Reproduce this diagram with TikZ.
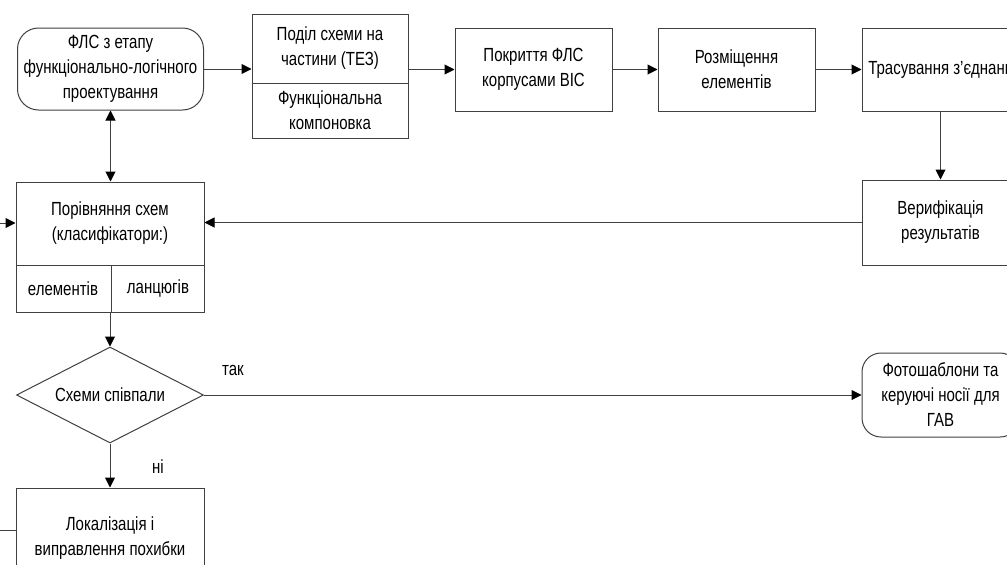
\documentclass[tikz,border=0pt]{standalone}
\usepackage{fontspec}
\setmainfont{Liberation Sans}[FakeStretch=0.79]
\usetikzlibrary{shapes.geometric,arrows.meta}
\begin{document}
\begin{tikzpicture}[x=1pt,y=-1pt,
  every node/.style={font=\fontsize{19}{25}\selectfont},
  box/.style={draw=black!75, line width=1pt, align=center, inner sep=0pt},
  plain/.style={align=center, inner sep=0pt},
  rbox/.style={box, rounded corners=21pt},
  conn/.style={draw=black!75, line width=1pt},
  arr/.style={conn, -{Triangle[length=10pt,width=10pt,color=black]}},
  darr/.style={conn, {Triangle[length=10pt,width=10pt,color=black]}-{Triangle[length=10pt,width=10pt,color=black]}}
]
\useasboundingbox (0,0) rectangle (1007,565);
\clip (0,0) rectangle (1007,565);
\fill[white] (0,0) rectangle (1007,565);

% top row
\node[rbox, minimum width=186pt, minimum height=82pt] (n1) at (110.5,69) {ФЛС з етапу\\функціонально-логічного\\проектування};
\node[box, minimum width=156pt, minimum height=124pt] (n2) at (330,76) {};
\node[plain] (n2a) at (330,48) {Поділ схеми на\\частини (ТЕЗ)};
\node[plain] (n2b) at (330,110) {Функціональна\\компоновка};
\coordinate (d2) at (330,83);
\draw[conn] (d2 -| n2.west) -- (d2 -| n2.east);
\node[box, minimum width=157pt, minimum height=83pt] (n3) at (533.5,69.5) {Покриття ФЛС\\корпусами ВІС};
\node[box, minimum width=157pt, minimum height=83pt] (n4) at (736.5,69.5) {Розміщення\\елементів};
\node[box, minimum width=157pt, minimum height=83pt] (n5) at (940.5,69.5) {};
\node[plain] (n5t) at (940.5,69.5) {Трасування з’єднань};

% verification
\node[box, minimum width=157pt, minimum height=85pt] (n6) at (940.5,222.5) {Верифікація\\результатів};

% comparison
\node[box, minimum width=188pt, minimum height=130pt] (n7) at (110,247) {};
\node[plain] (n7t) at (110,223) {Порівняння схем\\(класифікатори:)};
\node[plain] (n7a) at (63,289) {елементів};
\node[plain] (n7b) at (158,289) {ланцюгів};
\coordinate (d7) at (111,265);
\draw[conn] (d7 -| n7.west) -- (d7 -| n7.east);
\draw[conn] (d7) -- (d7 |- n7.south);

% decision
\node[draw=black!75, line width=1pt, diamond, aspect=1.95, inner sep=0pt,
      minimum width=187pt, minimum height=96pt] (dia) at (110,395) {Схеми співпали};
\node[box, minimum width=188pt, minimum height=100pt] (n8) at (110,538) {Локалізація і\\виправлення похибки};
\node[rbox, rounded corners=19pt, minimum width=157pt, minimum height=84pt] (n9) at (940.5,395) {Фотошаблони та\\керуючі носії для\\ГАВ};

% labels
\node[plain] (lyes) at (233,370) {так};
\node[plain] (lno) at (158,467) {ні};

% connectors
\draw[arr] (n1.east) -- (n1.east -| n2.west);
\draw[arr] (n3.west -| n2.east) -- (n3.west);
\draw[arr] (n3.east) -- (n4.west);
\draw[arr] (n4.east) -- (n5.west);
\draw[arr] (n5.south) -- (n6.north);
\draw[arr] (n6.west) -- (n6.west -| n7.east);
\draw[darr] (n1.south) -- (n7.north -| n1.south);
\draw[arr] (n7.south) -- (dia.north);
\draw[arr] (dia.east) -- (n9.west);
\draw[arr] (dia.south) -- (n8.north);
\coordinate (inL) at (0,223);
\draw[arr] (inL) -- (inL -| n7.west);
\coordinate (outL) at (0,530);
\draw[conn] (outL) -- (outL -| n8.west);
\end{tikzpicture}
\end{document}
